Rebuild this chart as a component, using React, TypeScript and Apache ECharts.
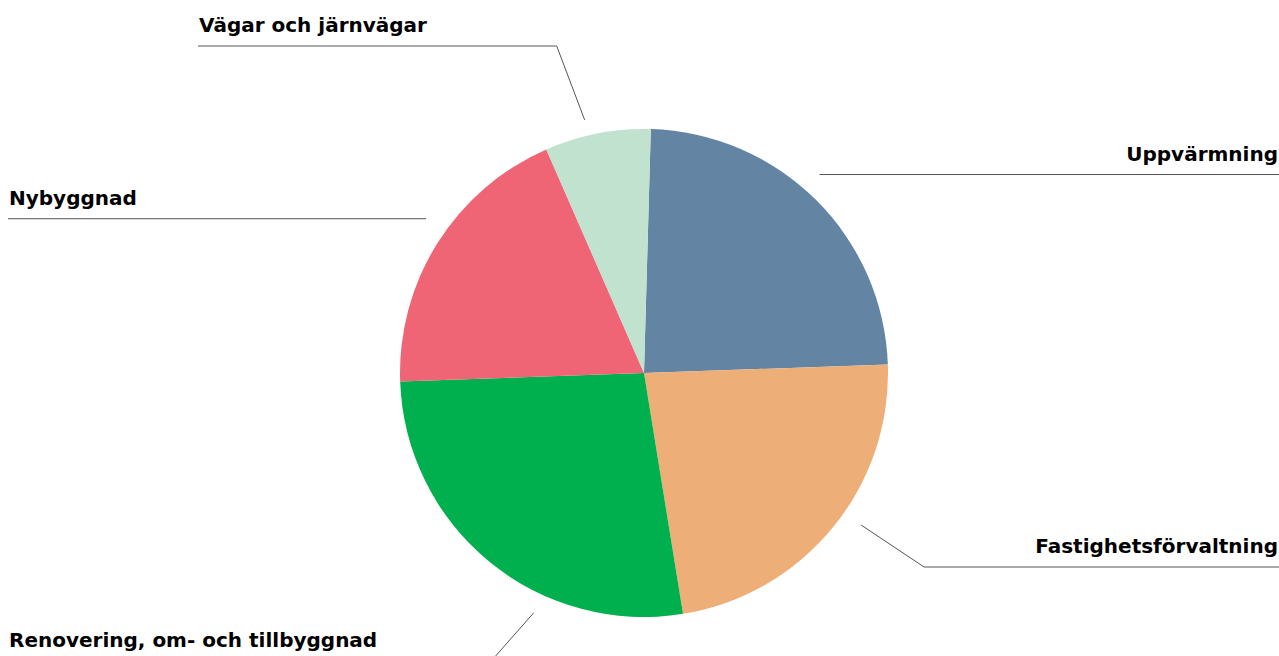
import React, { useEffect, useRef } from "react";
import * as echarts from "echarts";

// ---- data ----
const categories = [
  "Uppvärmning",
  "Fastighetsförvaltning",
  "Renovering, om- och tillbyggnad",
  "Nybyggnad",
  "Vägar och järnvägar",
];
const shares = [24, 23, 27, 19, 7];
const sliceColors = ["#6384a3", "#eeae78", "#00b04f", "#f06576", "#c0e2cf"];

// ---- layout ----
const WIDTH = 1279;
const HEIGHT = 656;
const CENTER = [644, 373];
const RADIUS = 244;
const START_ANGLE = 88.4;
const leaderGap = [21, 21, 20, 23, 16];
const anchorShift = [-3.3, -4.4, -14.7, 3.1, -2.2];
const bendShift = [0, -5.7, 2, 0, -9.7];
const leaderLevel: (number | null)[] = [null, 567, 661, null, 46];
const edgeInset = [0, 0, 0, 0, 190];

export default function App() {
  const ref = useRef<HTMLDivElement>(null);

  useEffect(() => {
    if (!ref.current) return;
    const chart = echarts.init(ref.current, undefined, { renderer: "svg" });
    const total = shares.reduce((a, b) => a + b, 0);

    chart.setOption({
      animation: false,
      backgroundColor: "#ffffff",
      series: [
        {
          type: "pie",
          center: CENTER,
          radius: RADIUS,
          startAngle: START_ANGLE,
          clockwise: true,
          avoidLabelOverlap: false,
          silent: true,
          itemStyle: { borderWidth: 0 },
          label: {
            show: true,
            position: "outside",
            formatter: "{b}",
            fontFamily: "DejaVu Sans",
            fontWeight: "bold",
            fontSize: 20,
            color: "#000000",
          },
          labelLine: {
            show: true,
            length: 10,
            length2: 10,
            lineStyle: { color: "#555555", width: 1 },
          },
          labelLayout: (params: any) => {
            const i = params.dataIndex;
            const before = shares.slice(0, i).reduce((a, b) => a + b, 0);
            const mid = 90 - START_ANGLE + ((before + shares[i] / 2) / total) * 360;
            const midRad = (mid * Math.PI) / 180;
            const a = ((mid + anchorShift[i]) * Math.PI) / 180;
            const b = ((mid + bendShift[i]) * Math.PI) / 180;
            const r = RADIUS + leaderGap[i];
            const sx = CENTER[0] + r * Math.sin(a);
            const sy = CENTER[1] - r * Math.cos(a);
            let kx = sx;
            let ky = sy;
            const lvl = leaderLevel[i];
            if (lvl != null) {
              const t = (lvl - sy) / -Math.cos(b);
              kx = sx + t * Math.sin(b);
              ky = lvl;
            }
            const right = Math.sin(midRad) > 0;
            const ex = right ? WIDTH - edgeInset[i] : 8 + edgeInset[i];
            return {
              x: right ? ex - 1 : ex + 1,
              y: ky - 21,
              align: right ? "right" : "left",
              verticalAlign: "middle",
              labelLinePoints: [
                [sx, sy],
                [kx, ky],
                [ex, ky],
              ],
            };
          },
          data: categories.map((name, i) => ({
            name,
            value: shares[i],
            itemStyle: { color: sliceColors[i] },
          })),
        },
      ],
    });

    return () => chart.dispose();
  }, []);

  return (
    <div
      ref={ref}
      style={{
        position: "fixed",
        left: 0,
        top: 0,
        width: WIDTH,
        height: HEIGHT,
        background: "#ffffff",
      }}
    />
  );
}
